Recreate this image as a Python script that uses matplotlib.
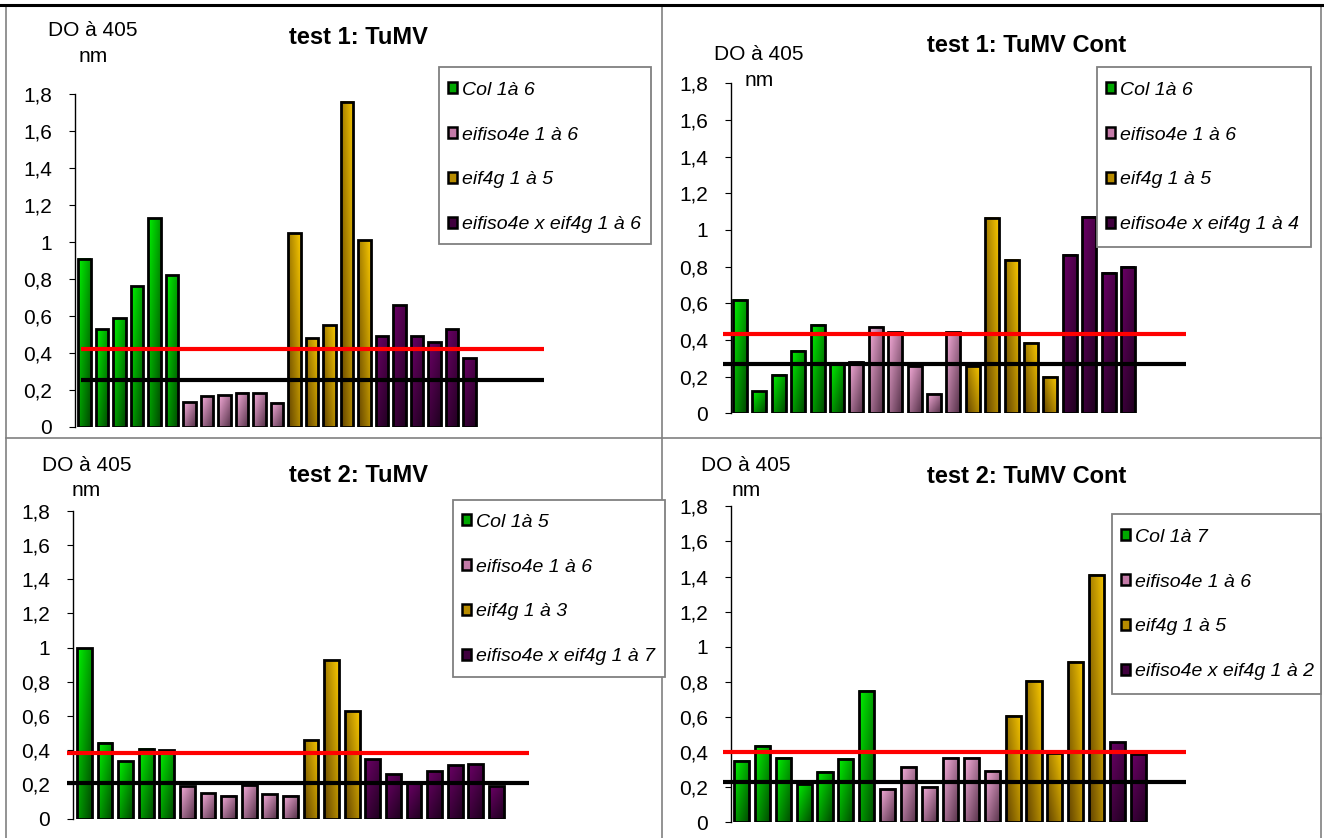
import numpy as np
import matplotlib
matplotlib.use("Agg")
import matplotlib.pyplot as plt
from matplotlib.patches import Patch, Rectangle
from matplotlib.lines import Line2D

plt.rcParams['font.family'] = ['Liberation Sans', 'DejaVu Sans']

# ---------------- data ----------------
titles = ["test 1: TuMV", "test 1: TuMV Cont", "test 2: TuMV", "test 2: TuMV Cont"]

col_vals = [
    [0.91, 0.53, 0.59, 0.76, 1.13, 0.82],
    [0.62, 0.12, 0.21, 0.34, 0.48, 0.27],
    [0.995, 0.445, 0.335, 0.41, 0.40],
    [0.35, 0.435, 0.365, 0.22, 0.285, 0.36, 0.75],
]
iso_vals = [
    [0.135, 0.165, 0.17, 0.185, 0.18, 0.13],
    [0.28, 0.47, 0.445, 0.26, 0.105, 0.445],
    [0.19, 0.15, 0.135, 0.195, 0.145, 0.135],
    [0.19, 0.315, 0.20, 0.365, 0.365, 0.295],
]
g_vals = [
    [1.05, 0.48, 0.55, 1.76, 1.01],
    [0.26, 1.065, 0.835, 0.385, 0.20],
    [0.46, 0.925, 0.63],
    [0.605, 0.805, 0.395, 0.915, 1.41],
]
dbl_vals = [
    [0.49, 0.66, 0.49, 0.46, 0.53, 0.37],
    [0.865, 1.07, 0.765, 0.80],
    [0.35, 0.26, 0.21, 0.28, 0.315, 0.32, 0.19],
    [0.455, 0.39],
]
red_levels = [0.42, 0.43, 0.385, 0.40]
black_levels = [0.255, 0.27, 0.21, 0.228]

legend_labels = [
    ["Col 1à 6", "eifiso4e 1 à 6", "eif4g 1 à 5", "eifiso4e x eif4g 1 à 6"],
    ["Col 1à 6", "eifiso4e 1 à 6", "eif4g 1 à 5", "eifiso4e x eif4g 1 à 4"],
    ["Col 1à 5", "eifiso4e 1 à 6", "eif4g 1 à 3", "eifiso4e x eif4g 1 à 7"],
    ["Col 1à 7", "eifiso4e 1 à 6", "eif4g 1 à 5", "eifiso4e x eif4g 1 à 2"],
]
ytick_vals = [0, 0.2, 0.4, 0.6, 0.8, 1.0, 1.2, 1.4, 1.6, 1.8]
ytick_labels = ["0", "0,2", "0,4", "0,6", "0,8", "1", "1,2", "1,4", "1,6", "1,8"]
ylabel_lines = ["DO à 405", "nm"]

# ---------------- layout (pixels) ----------------
W, H = 1324, 838
fig = plt.figure(figsize=(W / 100, H / 100), dpi=100)

# axis_x, first_center, spacing, line_start, line_end, y0, y18
geom = [
    (75, 84.4, 17.5, 81, 543.8, 426.7, 94.3),
    (731, 740.0, 19.4, 723, 1185.5, 413.3, 83.3),
    (73, 84.4, 20.6, 66.5, 528.6, 818.7, 510.7),
    (731, 741.4, 20.9, 723, 1185.5, 822.3, 506.3),
]
title_pos = [(358, 38), (1027, 45), (358, 475), (1027, 476)]
ylab_pos = [((93, 31), (93, 57)), ((759, 54), (759, 80)),
            ((86.5, 465), (86.5, 490)), ((746, 465), (746, 490))]
# legend box: left, top, right, bottom ; first entry centre y
legend_box = [(439, 67, 651, 244, 89), (1097, 67, 1311, 247, 89),
              (453, 500, 665, 677, 521), (1112, 514, 1321, 694, 536)]

# gradient styles: light, dark, weights (vertical, horizontal, inverted-horizontal)
styles = [
    dict(light=(0.0, 0.95, 0.0), dark=(0.0, 0.28, 0.0), wv=0.5, wu=0.5, wi=0.0, mid="#00a800"),
    dict(light=(0.97, 0.68, 0.86), dark=(0.33, 0.19, 0.28), wv=0.5, wu=0.5, wi=0.0, mid="#c47aa8"),
    dict(light=(0.97, 0.78, 0.0), dark=(0.38, 0.26, 0.0), wv=0.45, wu=0.0, wi=0.55, mid="#b88c00"),
    dict(light=(0.42, 0.0, 0.40), dark=(0.12, 0.0, 0.12), wv=0.6, wu=0.4, wi=0.0, mid="#40003e"),
]


def gradient_img(st, nx=24, ny=60):
    u = np.linspace(0, 1, nx)[None, :]
    v = np.linspace(0, 1, ny)[:, None]
    t = st["wv"] * v + st["wu"] * u + st["wi"] * (1 - u)
    t = np.clip(t, 0, 1)[..., None]
    light = np.array(st["light"])[None, None, :]
    dark = np.array(st["dark"])[None, None, :]
    return light * (1 - t) + dark * t


def px_rect(l, r, top, bottom):
    return [l / W, 1 - bottom / H, (r - l) / W, (bottom - top) / H]


bar_width = 0.72
for p in range(4):
    ax_x, fc, sp, ls, le, y0, y18 = geom[p]
    ax = fig.add_axes(px_rect(ax_x, le, y18, y0))
    groups = [col_vals[p], iso_vals[p], g_vals[p], dbl_vals[p]]
    pos = 0
    for gi, vals in enumerate(groups):
        xs = np.arange(pos, pos + len(vals))
        pos += len(vals)
        bars = ax.bar(xs, vals, width=bar_width, facecolor="none",
                      edgecolor="black", linewidth=2.0, zorder=3)
        img = gradient_img(styles[gi])
        for b in bars:
            x0 = b.get_x()
            h = b.get_height()
            ax.imshow(img, extent=(x0, x0 + bar_width, 0, h), aspect="auto",
                      origin="upper", zorder=2, interpolation="bilinear")
    xl = ((ax_x - fc) / sp, (le - fc) / sp)
    ax.set_xlim(*xl)
    ax.set_ylim(0, 1.8)
    xs_line = (ls - fc) / sp
    ax.hlines(red_levels[p], xs_line, xl[1], colors="#ff0000", linewidth=3.0,
              zorder=5, clip_on=False)
    ax.hlines(black_levels[p], xs_line, xl[1], colors="black", linewidth=3.0,
              zorder=5, clip_on=False)
    for s in ["top", "right", "bottom"]:
        ax.spines[s].set_visible(False)
    ax.spines["left"].set_linewidth(1.0)
    ax.set_xticks([])
    ax.set_yticks(ytick_vals)
    ax.set_yticklabels(ytick_labels)
    ax.tick_params(axis="y", direction="out", length=4.5, width=0.8,
                   labelsize=15, pad=12)
    ax.patch.set_alpha(0)

    tx, ty = title_pos[p]
    fig.text(tx / W, 1 - ty / H, titles[p], ha="center", va="center",
             fontsize=17, fontweight="bold")
    for line, (lx, ly) in zip(ylabel_lines, ylab_pos[p]):
        fig.text(lx / W, 1 - ly / H, line, ha="center", va="center", fontsize=15)

    # legend box + entries
    bl, bt, br, bb, first_y = legend_box[p]
    box = Rectangle((bl / W, 1 - bb / H), (br - bl) / W, (bb - bt) / H,
                    transform=fig.transFigure, facecolor="white",
                    edgecolor="#808080", linewidth=1.3, zorder=9)
    fig.add_artist(box)
    handles = [Patch(facecolor=styles[i]["mid"], edgecolor="black", linewidth=1.8)
               for i in range(4)]
    leg = fig.legend(handles, legend_labels[p], loc="upper left",
                     bbox_to_anchor=(bl / W, 1 - (first_y - 16) / H),
                     bbox_transform=fig.transFigure,
                     prop=dict(family="Liberation Sans", style="italic", size=14),
                     frameon=False, borderpad=0.45, labelspacing=1.43,
                     handlelength=0.5, handleheight=0.5, handletextpad=0.25,
                     borderaxespad=0)
    leg.set_zorder(10)

# ---------------- frame lines ----------------
gray = "#808080"


def fline(x0, y0, x1, y1, color, lw):
    fig.add_artist(Line2D([x0 / W, x1 / W], [1 - y0 / H, 1 - y1 / H],
                          color=color, linewidth=lw, transform=fig.transFigure, zorder=0))


fline(6, 7, 6, 838, gray, 1.2)
fline(662, 7, 662, 838, gray, 1.2)
fline(1321, 7, 1321, 838, gray, 1.2)
fline(6, 438.5, 1321, 438.5, gray, 1.2)
fline(0, 5.3, 1324, 5.3, "black", 2.2)

fig.savefig("out.png", dpi=100)
